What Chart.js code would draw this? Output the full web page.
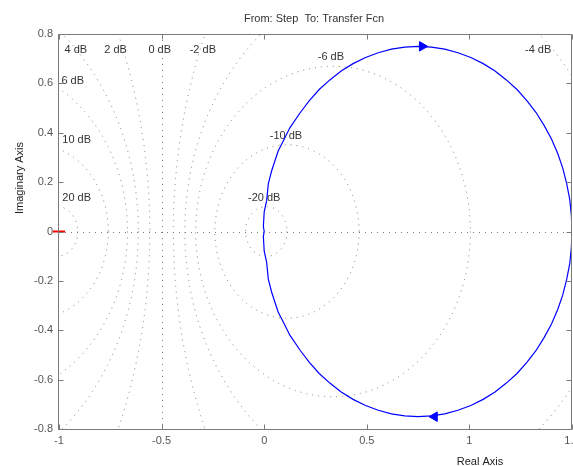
<!DOCTYPE html>
<html>
<head>
<meta charset="utf-8">
<script src="https://cdn.jsdelivr.net/npm/chart.js@4"></script>
<style>
html,body{margin:0;padding:0;background:#fff;}
canvas{display:block;}
</style>
</head>
<body>
<canvas id="nyq" width="573" height="466"></canvas>
<script>
// Nyquist curve: lower half (1.5 -> 0) then upper half (0 -> 1.5)
const nyqRe = [1.5, 1.497, 1.489, 1.474, 1.455, 1.43, 1.40, 1.364, 1.325, 1.28, 1.232, 1.18, 1.125, 1.067, 1.007, 0.944, 0.88, 0.815, 0.75,
               0.685, 0.62, 0.556, 0.494, 0.433, 0.375, 0.32, 0.268, 0.22, 0.176, 0.125, 0.093, 0.068, 0.036, 0.02, 0.012, 0.0, -0.004, 0,
               -0.004, 0.0, 0.012, 0.02, 0.036, 0.068, 0.093, 0.125, 0.176, 0.22, 0.268, 0.32, 0.375, 0.433, 0.494, 0.556, 0.62, 0.685,
               0.75, 0.815, 0.88, 0.944, 1.007, 1.067, 1.125, 1.18, 1.232, 1.28, 1.325, 1.364, 1.40, 1.43, 1.455, 1.474, 1.489, 1.497, 1.5];
const nyqIm = [0, -0.065, -0.13, -0.194, -0.257, -0.317, -0.375, -0.43, -0.482, -0.53, -0.575, -0.614, -0.65, -0.68, -0.705, -0.724, -0.739, -0.747, -0.75,
               -0.747, -0.739, -0.724, -0.705, -0.68, -0.65, -0.614, -0.575, -0.53, -0.482, -0.42, -0.367, -0.326, -0.245, -0.193, -0.125, -0.08, -0.02, 0,
               0.02, 0.08, 0.125, 0.193, 0.245, 0.326, 0.367, 0.42, 0.482, 0.53, 0.575, 0.614, 0.65, 0.68, 0.705, 0.724, 0.739, 0.747,
               0.75, 0.747, 0.739, 0.724, 0.705, 0.68, 0.65, 0.614, 0.575, 0.53, 0.482, 0.43, 0.375, 0.317, 0.257, 0.194, 0.13, 0.065, 0];

// direction arrows on the curve
const arrowRe = [0.77, 0.83];
const arrowIm = [0.75, -0.75];
const arrowRot = [90, -90];

// critical point
const critRe = [-1];
const critIm = [0];

// M-circle levels (dB) and label anchors
const mDb      = [20, 10, 6, 4, 2, 0, -2, -4, -6, -10, -20];
const mLabRe   = [-0.914, -0.914, -0.933, -0.918, -0.724, -0.509, -0.299, 1.335, 0.325, 0.106, 0.0];
const mLabIm   = [0.137, 0.372, 0.61, 0.736, 0.736, 0.736, 0.736, 0.736, 0.708, 0.388, 0.137];

const xTicks = [-1, -0.5, 0, 0.5, 1, 1.5];
const yTicks = [-0.8, -0.6, -0.4, -0.2, 0, 0.2, 0.4, 0.6, 0.8];

const titleText = "From: Step  To: Transfer Fcn";
const xTitle = "Real Axis";
const yTitle = "Imaginary Axis";

const FONT = "11px 'Liberation Sans', Arial, sans-serif";
const fmt = v => (Math.abs(v) < 1e-9 ? "0" : String(+v.toFixed(2)));

const mCircles = {
  id: "mCircles",
  beforeDatasetsDraw(chart) {
    const { ctx, chartArea: a, scales: { x, y } } = chart;
    ctx.save();
    ctx.beginPath();
    ctx.rect(a.left, a.top, a.right - a.left, a.bottom - a.top);
    ctx.clip();
    ctx.strokeStyle = "#7a7a7a";
    ctx.lineWidth = 1;
    ctx.setLineDash([1, 5]);
    // real axis
    const y0 = Math.round(y.getPixelForValue(0)) + 0.5;
    ctx.beginPath();
    ctx.moveTo(a.left, y0);
    ctx.lineTo(a.right, y0);
    ctx.stroke();
    mDb.forEach(db => {
      ctx.beginPath();
      if (db === 0) {
        const px = Math.round(x.getPixelForValue(-0.5)) + 0.5;
        ctx.moveTo(px, a.top);
        ctx.lineTo(px, a.bottom);
      } else {
        const m = Math.pow(10, db / 20), m2 = m * m;
        const c = -m2 / (m2 - 1), r = Math.abs(m / (m2 - 1));
        const cx = x.getPixelForValue(c), cy = y.getPixelForValue(0);
        const rx = Math.abs(x.getPixelForValue(c + r) - cx);
        const ry = Math.abs(y.getPixelForValue(r) - cy);
        ctx.ellipse(cx, cy, rx, ry, 0, 0, Math.PI * 2);
      }
      ctx.stroke();
    });
    ctx.restore();

    ctx.save();
    ctx.font = FONT;
    ctx.fillStyle = "#333";
    ctx.textAlign = "center";
    ctx.textBaseline = "middle";
    mDb.forEach((db, i) => {
      ctx.fillText(db + " dB", x.getPixelForValue(mLabRe[i]), y.getPixelForValue(mLabIm[i]));
    });
    ctx.restore();
  },
  afterDraw(chart) {
    const { ctx, chartArea: a, scales: { x, y } } = chart;
    ctx.save();
    ctx.strokeStyle = "#7a7a7a";
    ctx.lineWidth = 1;
    ctx.setLineDash([]);
    const L = a.left - 0.5, R = a.right - 0.5, T = a.top + 0.5, B = a.bottom + 0.5;
    ctx.beginPath();
    ctx.moveTo(L, T); ctx.lineTo(R, T); ctx.lineTo(R, B); ctx.lineTo(L, B); ctx.closePath();
    ctx.stroke();
    ctx.beginPath();
    xTicks.forEach(v => {
      const px = Math.round(x.getPixelForValue(v)) + 0.5;
      ctx.moveTo(px, B); ctx.lineTo(px, B - 5);
      ctx.moveTo(px, T); ctx.lineTo(px, T + 5);
    });
    yTicks.forEach(v => {
      const py = Math.round(y.getPixelForValue(v)) + 0.5;
      ctx.moveTo(L, py); ctx.lineTo(L + 5, py);
      ctx.moveTo(R, py); ctx.lineTo(R - 5, py);
    });
    ctx.stroke();

    // tick labels
    ctx.font = FONT;
    ctx.fillStyle = "#555";
    ctx.textBaseline = "middle";
    ctx.textAlign = "center";
    xTicks.forEach(v => ctx.fillText(fmt(v), x.getPixelForValue(v), a.bottom + 12));
    ctx.textAlign = "right";
    yTicks.forEach(v => ctx.fillText(fmt(v), a.left - 6, y.getPixelForValue(v)));

    // titles
    ctx.textAlign = "center";
    ctx.fillStyle = "#333";
    ctx.fillText(titleText, 314, 19);
    ctx.fillStyle = "#222";
    ctx.fillText(xTitle, 480, 462);
    ctx.translate(20, 178);
    ctx.rotate(-Math.PI / 2);
    ctx.fillText(yTitle, 0, 0);
    ctx.restore();
  }
};

new Chart(document.getElementById("nyq"), {
  type: "scatter",
  data: {
    datasets: [
      {
        data: nyqRe.map((re, i) => ({ x: re, y: nyqIm[i] })),
        showLine: true,
        borderColor: "#0000ff",
        borderWidth: 1.2,
        pointRadius: 0,
        tension: 0
      },
      {
        data: arrowRe.map((re, i) => ({ x: re, y: arrowIm[i] })),
        pointStyle: "triangle",
        rotation: arrowRot,
        pointRadius: 5.5,
        backgroundColor: "#0000ff",
        borderColor: "#0000ff",
        borderWidth: 1
      },
      {
        data: critRe.map((re, i) => ({ x: re, y: critIm[i] })),
        pointStyle: "line",
        pointRadius: 6,
        borderColor: "#ff0000",
        borderWidth: 2,
        clip: false
      }
    ]
  },
  options: {
    responsive: false,
    animation: false,
    events: [],
    layout: { autoPadding: false, padding: { top: 34, right: 1, left: 0, bottom: 0 } },
    plugins: { legend: { display: false }, tooltip: { enabled: false } },
    scales: {
      x: {
        type: "linear",
        min: -1, max: 1.5,
        afterBuildTicks: s => { s.ticks = xTicks.map(v => ({ value: v })); },
        afterFit: s => { s.height = 37; },
        grid: { display: false, drawTicks: false },
        border: { display: false },
        ticks: { display: false }
      },
      y: {
        type: "linear",
        min: -0.8, max: 0.8,
        afterBuildTicks: s => { s.ticks = yTicks.map(v => ({ value: v })); },
        afterFit: s => { s.width = 59; },
        grid: { display: false, drawTicks: false },
        border: { display: false },
        ticks: { display: false }
      }
    }
  },
  plugins: [mCircles]
});
</script>
</body>
</html>
